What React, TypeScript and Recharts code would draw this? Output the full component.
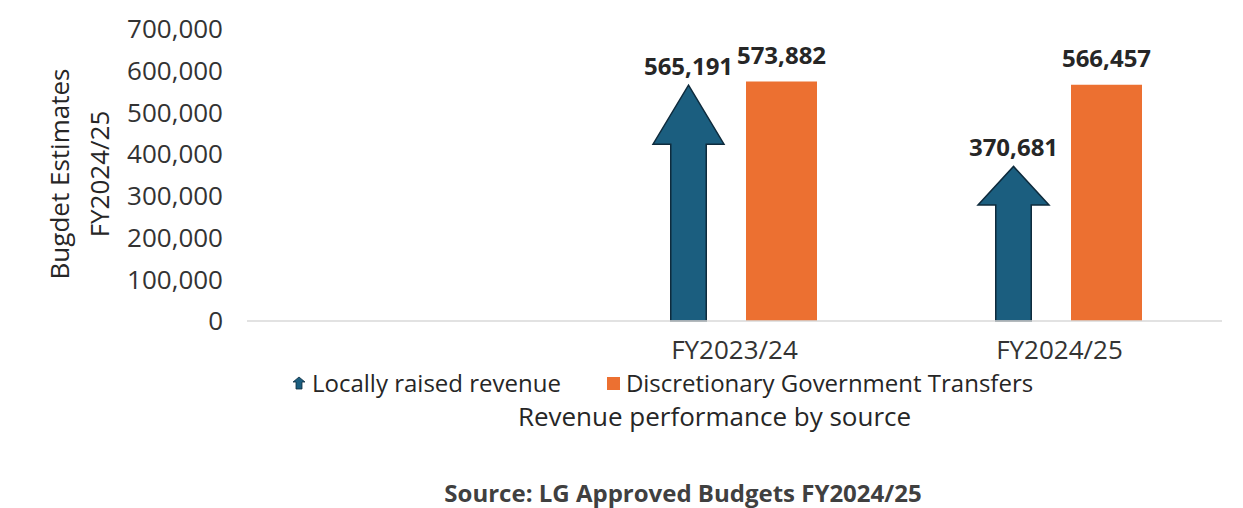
import React from 'react';
import { BarChart, Bar, XAxis, YAxis, Legend, LabelList } from 'recharts';

const categories = ['', 'FY2023/24', 'FY2024/25'];
const localRevenue = [null, 565191, 370681];
const govTransfers = [null, 573882, 566457];
const yTicks = [0, 100000, 200000, 300000, 400000, 500000, 600000, 700000];

const BLUE = '#1b5e7f';
const BLUE_EDGE = '#0e2b3d';
const ORANGE = '#ec7031';
const FONT = '"Open Sans", Lato, sans-serif';

const data = categories.map((name, i) => ({
  name,
  local: localRevenue[i],
  gov: govTransfers[i],
}));

const fmt = (v: number) => v.toLocaleString('en-US');

// up-arrow drawn inside the bar's box: head is a quarter of the height
const ArrowBar = (props: any) => {
  const { x, y, width, height } = props;
  if (!height || height <= 0) return null;
  const headH = height * 0.25;
  const shaftW = width / 2;
  const sx = x + (width - shaftW) / 2;
  const d = [
    `M${x + width / 2},${y}`,
    `L${x + width},${y + headH}`,
    `L${sx + shaftW},${y + headH}`,
    `L${sx + shaftW},${y + height}`,
    `L${sx},${y + height}`,
    `L${sx},${y + headH}`,
    `L${x},${y + headH}`,
    'Z',
  ].join(' ');
  return <path d={d} fill={BLUE} stroke={BLUE_EDGE} strokeWidth={1.5} />;
};

const YTitle = () => (
  <g fill="#262626" fontFamily={FONT} fontSize={26}>
    <text x={69} y={174} textAnchor="middle" transform="rotate(-90 69 174)">
      Bugdet Estimates
    </text>
    <text x={109} y={174} textAnchor="middle" transform="rotate(-90 109 174)">
      FY2024/25
    </text>
  </g>
);

const LegendRow = () => (
  <div
    style={{
      display: 'flex',
      alignItems: 'center',
      paddingLeft: 292,
      fontFamily: FONT,
      fontSize: 24,
      color: '#262626',
      lineHeight: '30px',
    }}
  >
    <svg width={14} height={14} style={{ marginRight: 6 }}>
      <path d="M7,1 L13,6 L10,6 L10,13 L4,13 L4,6 L1,6 Z" fill={BLUE} stroke={BLUE_EDGE} strokeWidth={0.8} />
    </svg>
    <span>Locally raised revenue</span>
    <svg width={13} height={13} style={{ marginLeft: 46, marginRight: 6 }}>
      <rect width={13} height={13} fill={ORANGE} />
    </svg>
    <span>Discretionary Government Transfers</span>
  </div>
);

export default function App() {
  return (
    <div style={{ position: 'absolute', left: 0, top: 0, width: 1243, height: 508, background: '#fff' }}>
      <BarChart
        width={1243}
        height={508}
        data={data}
        margin={{ top: 29, right: 21, left: 0, bottom: 110 }}
        barSize={71}
        barGap={22}
      >
        <YAxis
          width={247}
          domain={[0, 700000]}
          ticks={yTicks}
          interval={0}
          tickFormatter={fmt}
          axisLine={false}
          tickLine={false}
          tickSize={0}
          tickMargin={24}
          tick={{ fill: '#333', fontSize: 26, fontFamily: FONT }}
          label={<YTitle />}
        />
        <XAxis
          dataKey="name"
          height={47}
          axisLine={{ stroke: '#d9d9d9', strokeWidth: 1.5 }}
          tickLine={false}
          tickSize={0}
          tickMargin={20}
          tick={{ fill: '#333', fontSize: 26, fontFamily: FONT }}
          label={{
            value: 'Revenue performance by source',
            position: 'bottom',
            offset: 40,
            dx: -20,
            fill: '#262626',
            fontSize: 26,
            fontFamily: FONT,
          }}
        />
        <Legend verticalAlign="bottom" content={<LegendRow />} wrapperStyle={{ height: 30 }} />
        <Bar dataKey="local" name="Locally raised revenue" shape={ArrowBar} isAnimationActive={false}>
          <LabelList
            dataKey="local"
            position="top"
            offset={10}
            formatter={(v: any) => (v == null ? '' : fmt(v))}
            style={{ fill: '#262626', fontSize: 24, fontWeight: 700, fontFamily: FONT }}
          />
        </Bar>
        <Bar dataKey="gov" name="Discretionary Government Transfers" fill={ORANGE} isAnimationActive={false}>
          <LabelList
            dataKey="gov"
            position="top"
            offset={18}
            formatter={(v: any) => (v == null ? '' : fmt(v))}
            style={{ fill: '#262626', fontSize: 24, fontWeight: 700, fontFamily: FONT }}
          />
        </Bar>
      </BarChart>
      <div
        style={{
          position: 'absolute',
          left: 0,
          width: 1366,
          top: 476,
          textAlign: 'center',
          fontFamily: FONT,
          fontWeight: 700,
          fontSize: 24,
          color: '#404040',
        }}
      >
        Source: LG Approved Budgets FY2024/25
      </div>
    </div>
  );
}
